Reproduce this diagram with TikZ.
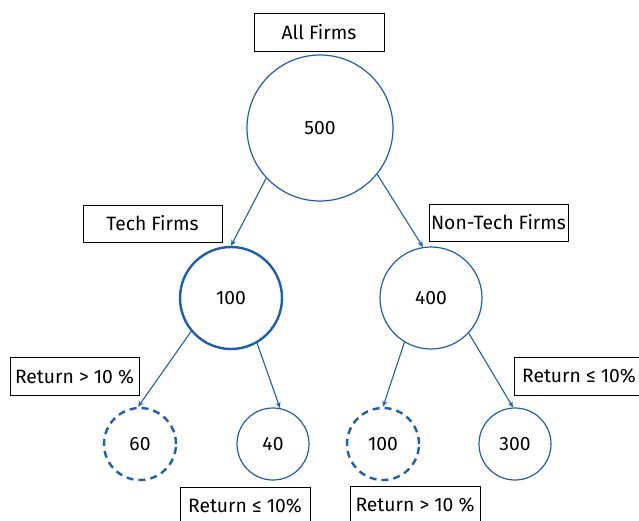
\documentclass[tikz,border=0pt]{standalone}
\usepackage{fontspec}
\setmainfont{Fira Sans}
\usetikzlibrary{arrows.meta}
\definecolor{treeblue}{HTML}{1F5FA8}
\tikzset{
  lbl/.style={draw=black, line width=0.9pt, fill=white, inner sep=0pt, minimum height=38pt, font=\fontsize{19.3}{22}\selectfont},
  circ/.style={circle, draw=treeblue, line width=1.2pt, inner sep=0pt, font=\fontsize{19.3}{22}\selectfont},
  thick circ/.style={circ, line width=2.4pt},
  dash circ/.style={circ, line width=2.4pt, dash pattern=on 7pt off 5pt},
  conn/.style={draw=treeblue, line width=1.1pt, -{Stealth[length=6pt,width=5pt]}}
}
\begin{document}
\begin{tikzpicture}[x=1pt,y=-1pt]
\useasboundingbox (0,0) rectangle (639,521);
\node[lbl, minimum width=130pt] (all) at (319,32) {All Firms};
\node[circ, minimum size=146pt] (c500) at (320,128) {500};
\node[lbl, minimum width=139pt, minimum height=37pt] (tech) at (152.5,223.5) {Tech Firms};
\node[lbl, minimum width=139pt, minimum height=37pt] (nontech) at (498.5,222.5) {Non-Tech Firms};
\node[thick circ, minimum size=102pt] (c100) at (231,298) {100};
\node[circ, minimum size=102pt] (c400) at (431,298) {400};
\node[dash circ, minimum size=72pt] (c60) at (140,444) {60};
\node[circ, minimum size=72pt] (c40) at (273,444) {40};
\node[dash circ, minimum size=72pt] (c100b) at (383,444) {100};
\node[circ, minimum size=72pt] (c300) at (515,444) {300};
\node[lbl, minimum width=129pt] (r1) at (74.5,376.5) {Return > 10 \%};
\node[lbl, minimum width=130pt] (r2) at (245,506) {Return ≤ 10\%};
\node[lbl, minimum width=130pt] (r3) at (579,376) {Return ≤ 10\%};
\node[lbl, minimum width=130pt] (r4) at (415,505) {Return > 10 \%};
\draw[conn] (c500.223) -- (c100.north);
\draw[conn] (c500.-39) -- (c400.99);
\draw[conn] (c100.-140) -- (c60.93);
\draw[conn] (c100.-60) -- (c40.79);
\draw[conn] (c400.-121) -- (c100b.north);
\draw[conn] (c400.-43) -- (c300.93);
\end{tikzpicture}
\end{document}
